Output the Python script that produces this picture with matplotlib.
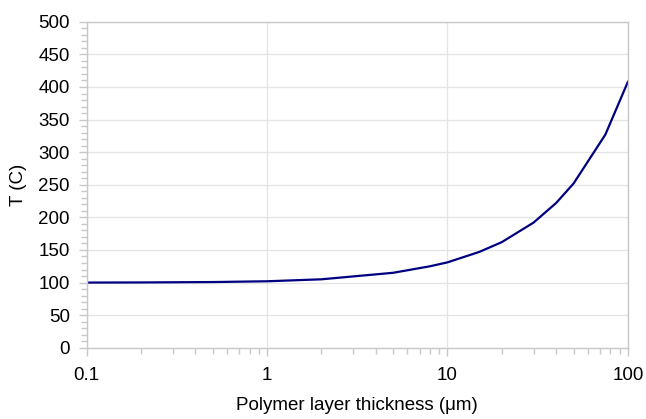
import numpy as np
import matplotlib
matplotlib.use('agg')
import matplotlib.pyplot as plt
from matplotlib.ticker import FixedLocator, MultipleLocator, FixedFormatter, NullFormatter

# thickness (um) vs temperature (C)
thickness = [0.1, 0.2, 0.5, 1, 2, 5, 8, 10, 15, 20, 30, 40, 50, 75, 100]
temp = [100, 100.2, 100.8, 102, 105, 115, 125, 131, 147, 162, 192, 222, 252, 327, 408]

xticks = [0.1, 1, 10, 100]
xticklabels = ['0.1', '1', '10', '100']

plt.rcParams['font.family'] = ['Liberation Sans', 'DejaVu Sans']
plt.rcParams['font.size'] = 13.5

fig, ax = plt.subplots(figsize=(6.46, 4.19), dpi=100)
fig.subplots_adjust(left=0.134, right=0.972, top=0.948, bottom=0.17)

ax.plot(thickness, temp, color='#000080', linewidth=1.6, solid_joinstyle='miter')

ax.set_xscale('log')
ax.set_xlim(0.1, 100)
ax.set_ylim(0, 500)
ax.xaxis.set_major_locator(FixedLocator(xticks))
ax.xaxis.set_major_formatter(FixedFormatter(xticklabels))
ax.xaxis.set_minor_locator(FixedLocator([m * d for d in (0.1, 1, 10) for m in range(2, 10)]))
ax.xaxis.set_minor_formatter(NullFormatter())
ax.yaxis.set_major_locator(MultipleLocator(50))
ax.yaxis.set_minor_locator(MultipleLocator(10))

ax.grid(True, which='major', color='#e4e4e4', linewidth=0.9)
for s in ax.spines.values():
    s.set_color('#c8c8c8')
    s.set_linewidth(1.0)
ax.tick_params(which='major', length=6, width=1, color='#c8c8c8', pad=6)
ax.tick_params(which='minor', length=4, width=1, color='#c8c8c8')
ax.tick_params(axis='x', pad=8)

ax.set_xlabel('Polymer layer thickness (\u03bcm)', labelpad=9)
ax.set_ylabel('T (C)', labelpad=8)

fig.savefig('out.png', dpi=100)
